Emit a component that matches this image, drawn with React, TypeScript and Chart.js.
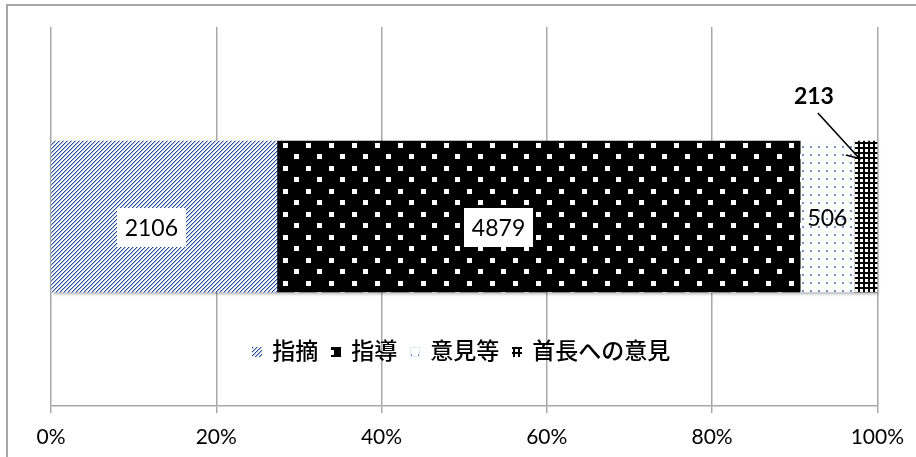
import React, { useEffect, useRef } from 'react';
import { Chart, registerables } from 'chart.js';

Chart.register(...registerables);

// ---- data ----
const categories = [''];
const seriesNames = ['指摘', '指導', '意見等', '首長への意見'];
const seriesValues = [2106, 4879, 506, 213];
const tickValues = [0, 20, 40, 60, 80, 100];

const total = seriesValues.reduce((a, b) => a + b, 0);

function makeTile(w: number, h: number, draw: (c: CanvasRenderingContext2D) => void) {
  const cv = document.createElement('canvas');
  cv.width = w;
  cv.height = h;
  const c = cv.getContext('2d')!;
  draw(c);
  return cv;
}

function makePatterns(ctx: CanvasRenderingContext2D) {
  const hatch = makeTile(4, 4, (c) => {
    c.fillStyle = '#ffffff';
    c.fillRect(0, 0, 4, 4);
    for (let yy = 0; yy < 4; yy++) {
      for (let xx = 0; xx < 4; xx++) {
        const k = (xx + yy) % 4;
        if (k === 3) {
          c.fillStyle = '#234f9e';
          c.fillRect(xx, yy, 1, 1);
        } else if (k === 0) {
          c.fillStyle = '#a9bcdf';
          c.fillRect(xx, yy, 1, 1);
        }
      }
    }
  });
  const squares = makeTile(23, 23, (c) => {
    c.fillStyle = '#000000';
    c.fillRect(0, 0, 23, 23);
    c.fillStyle = '#ffffff';
    c.fillRect(0, 0, 5, 5);
    c.fillRect(11, 11, 5, 5);
  });
  const dots = makeTile(8, 8, (c) => {
    c.fillStyle = '#ffffff';
    c.fillRect(0, 0, 8, 8);
    c.fillStyle = '#7393d0';
    c.fillRect(2, 2, 2, 2);
  });
  const grid = makeTile(5, 5, (c) => {
    c.fillStyle = '#000000';
    c.fillRect(0, 0, 5, 5);
    c.fillStyle = '#ffffff';
    c.fillRect(1, 1, 3, 3);
  });
  const p0 = ctx.createPattern(hatch, 'repeat')!;
  const p1 = ctx.createPattern(squares, 'repeat')!;
  const p2 = ctx.createPattern(dots, 'repeat')!;
  const p3 = ctx.createPattern(grid, 'repeat')!;
  try {
    p1.setTransform(new DOMMatrix([1, 0, 0, 1, 283, 143]));
    p3.setTransform(new DOMMatrix([1, 0, 0, 1, 859, 143]));
  } catch (e) {}
  return [p0, p1, p2, p3];
}

const framePlugin = {
  id: 'frame',
  beforeDraw(chart: any) {
    const ctx = chart.ctx;
    ctx.save();
    ctx.strokeStyle = '#a6a6a6';
    ctx.lineWidth = 2;
    ctx.strokeRect(7, 5, 1200, 1200);
    ctx.restore();
  },
};

const shadowPlugin = {
  id: 'barShadow',
  beforeDatasetsDraw(chart: any) {
    const ctx = chart.ctx;
    const first = chart.getDatasetMeta(0).data[0];
    const last = chart.getDatasetMeta(seriesValues.length - 1).data[0];
    if (!first || !last) return;
    const left = first.base;
    const right = last.x;
    const top = first.y - first.height / 2;
    const h = first.height;
    ctx.save();
    ctx.shadowColor = 'rgba(0,0,0,0.35)';
    ctx.shadowBlur = 3;
    ctx.shadowOffsetX = 1;
    ctx.shadowOffsetY = 2;
    ctx.fillStyle = '#cfcfcf';
    ctx.fillRect(left, top, right - left, h);
    ctx.restore();
  },
};

const labelPlugin = {
  id: 'valueLabels',
  afterDatasetsDraw(chart: any) {
    const ctx = chart.ctx;
    ctx.save();
    const offsets = [
      [-13, 11, 1],
      [-40, 11, 1],
      [0, 1, 0],
    ];
    ctx.textAlign = 'center';
    ctx.textBaseline = 'middle';
    for (let i = 0; i < 3; i++) {
      const el = chart.getDatasetMeta(i).data[0];
      const cx = (el.x + el.base) / 2 + offsets[i][0];
      const cy = el.y + offsets[i][1];
      ctx.font = '23px Lato';
      const text = String(seriesValues[i]);
      if (offsets[i][2]) {
        const w = ctx.measureText(text).width + 16;
        const h = 39;
        ctx.fillStyle = '#ffffff';
        ctx.fillRect(Math.round(cx - w / 2), Math.round(cy - h / 2), Math.round(w), h);
      }
      ctx.fillStyle = '#000000';
      ctx.fillText(text, cx, cy + 1);
    }
    // callout label for last series
    const el = chart.getDatasetMeta(3).data[0];
    const scx = (el.x + el.base) / 2;
    const top = el.y - el.height / 2;
    ctx.font = 'bold 23px Lato';
    ctx.fillStyle = '#000000';
    ctx.fillText(String(seriesValues[3]), scx - 52, top - 44);
    ctx.strokeStyle = '#000000';
    ctx.lineWidth = 1.6;
    ctx.beginPath();
    ctx.moveTo(scx - 48, top - 28);
    ctx.lineTo(scx - 6, top + 18);
    ctx.moveTo(scx - 20, top + 14);
    ctx.lineTo(scx - 5, top + 18);
    ctx.stroke();
    ctx.restore();
  },
};

const legendPlugin = {
  id: 'overlayLegend',
  afterDatasetsDraw(chart: any) {
    const ctx = chart.ctx;
    const area = chart.chartArea;
    const patterns = chart.data.datasets.map((d: any) => d.backgroundColor);
    ctx.save();
    ctx.font = '500 23px "Noto Sans CJK JP"';
    const box = 10;
    const gap = 10;
    const itemGap = 13;
    const widths = seriesNames.map((n) => ctx.measureText(n).width);
    const totalW = widths.reduce((a, w) => a + box + gap + w, 0) + itemGap * (seriesNames.length - 1);
    let x = (area.left + area.right) / 2 - 3 - totalW / 2;
    const y = 350;
    ctx.textBaseline = 'middle';
    ctx.textAlign = 'left';
    seriesNames.forEach((n, i) => {
      ctx.fillStyle = patterns[i];
      ctx.fillRect(Math.round(x), y - 3, box, box);
      if (i === 2) {
        ctx.strokeStyle = '#e4e8f0';
        ctx.lineWidth = 1;
        ctx.strokeRect(Math.round(x) + 0.5, y - 2.5, box - 1, box - 1);
      }
      x += box + gap;
      ctx.fillStyle = '#000000';
      ctx.fillText(n, x, y);
      x += widths[i] + itemGap;
    });
    ctx.restore();
  },
};

export default function App() {
  const ref = useRef<HTMLCanvasElement>(null);

  useEffect(() => {
    const canvas = ref.current!;
    const ctx = canvas.getContext('2d')!;
    const patterns = makePatterns(ctx);
    const chart = new Chart(canvas, {
      type: 'bar',
      data: {
        labels: categories,
        datasets: seriesNames.map((name, i) => ({
          label: name,
          data: [(seriesValues[i] / total) * 100],
          backgroundColor: patterns[i] as any,
          borderWidth: 0,
          barThickness: 151,
        })),
      },
      options: {
        indexAxis: 'y',
        responsive: false,
        animation: false,
        events: [],
        layout: { padding: { left: 51, right: 36, top: 27, bottom: 0 } },
        plugins: {
          legend: { display: false },
          tooltip: { enabled: false },
        },
        scales: {
          x: {
            stacked: true,
            min: tickValues[0],
            max: tickValues[tickValues.length - 1],
            afterFit: (s: any) => {
              s.height = 51;
            },
            afterBuildTicks: (s: any) => {
              s.ticks = tickValues.map((v) => ({ value: v }));
            },
            ticks: {
              callback: (v: any) => v + '%',
              font: { family: 'Lato', size: 21 },
              color: '#000000',
              padding: 12,
              maxRotation: 0,
              autoSkip: false,
            },
            grid: { color: '#a8a8a8', lineWidth: 1.5, tickLength: 7, drawTicks: true },
            border: { color: '#a8a8a8', width: 1.5 },
          },
          y: { stacked: true, display: false },
        },
      },
      plugins: [framePlugin, shadowPlugin, labelPlugin, legendPlugin],
    } as any);
    return () => chart.destroy();
  }, []);

  return (
    <div style={{ position: 'fixed', left: 0, top: 0, width: 916, height: 457, background: '#fff' }}>
      <canvas ref={ref} width={916} height={457} style={{ display: 'block' }} />
    </div>
  );
}
